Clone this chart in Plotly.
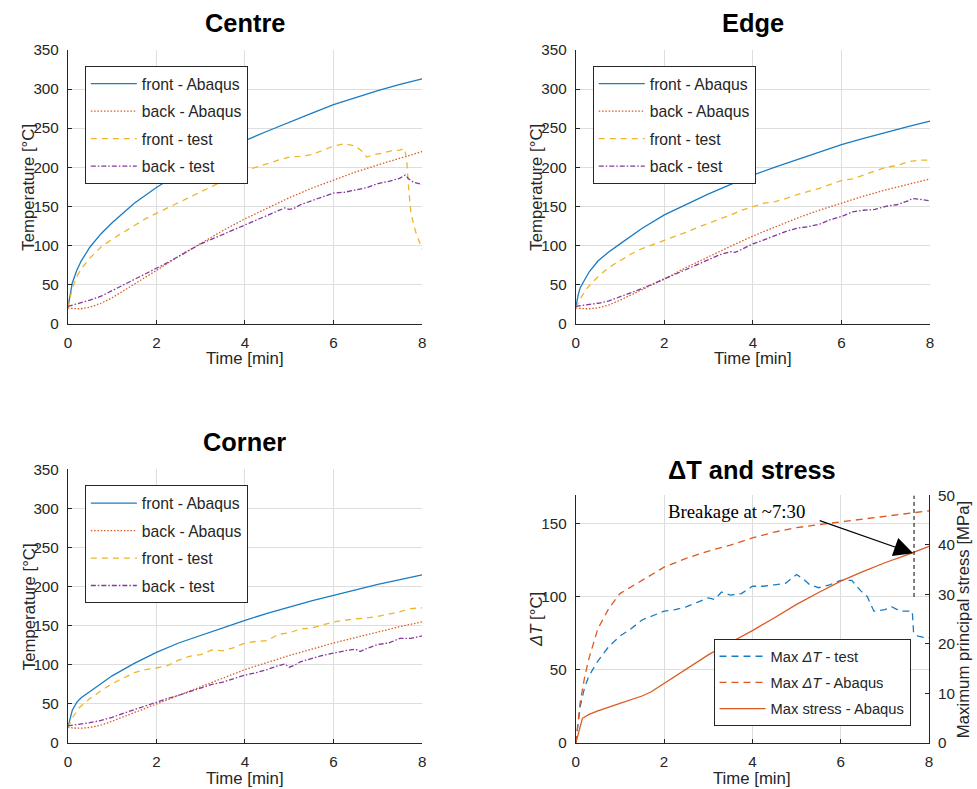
import plotly.graph_objects as go

W, H = 977, 789
BLUE, ORANGE, YELLOW, PURPLE = '#1a7cc2', '#db5a22', '#eeb528', '#84389a'
AX = '#262626'
GRID = '#dedede'
FONT = 'Liberation Sans, Arial, sans-serif'

# ---------------- data ----------------
t_abq = [0, 0.05, 0.1, 0.2, 0.3, 0.5, 0.75, 1, 1.5, 2, 2.5, 3, 3.5, 4, 4.5, 5, 5.5, 6, 6.5, 7, 7.5, 8]

centre_front_abq = [20, 38, 52, 68, 80, 98, 115, 129, 154, 174, 192, 207, 221, 234, 246, 258, 269, 280, 289, 298, 306, 313]
centre_back_abq = [20, 20, 19.5, 19, 19, 21, 26, 33, 50, 68, 86, 103, 119, 134, 148, 161, 173, 184, 194, 203, 212, 220]

edge_front_abq = [20, 36, 46, 57, 66, 80, 92, 102, 122, 139, 153, 166, 178, 190, 200, 210, 220, 229, 237, 245, 252, 259]
edge_back_abq = [20, 20, 19.5, 19, 19, 20, 24, 30, 43, 57, 72, 86, 99, 112, 124, 135, 145, 154, 163, 171, 178, 185]

corner_front_abq = [20, 32, 42, 52, 58, 66, 76, 86, 102, 116, 128, 138, 148, 157, 166, 174, 182, 189, 196, 203, 209, 215]
corner_back_abq = [20, 20, 19.5, 19, 19, 20, 23, 28, 39, 51, 62, 73, 84, 94, 103, 112, 120, 128, 135, 142, 149, 155]

centre_t_front_test = [0, 0.05, 0.1, 0.2, 0.3, 0.5, 0.75, 1, 1.25, 1.5, 1.75, 2, 2.25, 2.5, 2.75, 3, 3.25, 3.5, 3.75, 4,
                       4.25, 4.5, 4.75, 5, 5.25, 5.5, 5.75, 6, 6.25, 6.5, 6.65, 6.75, 6.9, 7.1, 7.3, 7.5, 7.6, 7.65,
                       7.7, 7.75, 7.85, 8]
centre_front_test = [20, 35, 45, 60, 70, 84, 98, 108, 117, 126, 134, 141, 148, 155, 161, 168, 175, 182, 189, 196,
                     200, 205, 209, 213, 214, 216, 222, 227, 230, 227, 220, 213, 216, 218, 221, 222, 224, 210,
                     170, 140, 118, 95]
centre_t_back_test = [0, 0.25, 0.5, 0.75, 1, 1.25, 1.5, 1.75, 2, 2.25, 2.5, 2.75, 3, 3.25, 3.5, 3.75, 4, 4.25, 4.5,
                      4.75, 4.9, 5, 5.1, 5.25, 5.5, 5.75, 6, 6.25, 6.5, 6.75, 7, 7.25, 7.5, 7.62, 7.7, 7.8, 8]
centre_back_test = [22, 26, 30, 35, 42, 49, 56, 63, 71, 78, 86, 94, 102, 108, 114, 121, 127, 132, 138,
                    145, 148, 146, 147, 152, 157, 163, 167, 168, 171, 174, 179, 182, 186, 190, 185, 181, 178]

edge_t_front_test = [0, 0.1, 0.25, 0.5, 0.75, 1, 1.25, 1.5, 1.75, 2, 2.25, 2.5, 2.75, 3, 3.25, 3.5, 3.75, 4, 4.25,
                     4.5, 4.75, 5, 5.25, 5.5, 5.75, 6, 6.25, 6.5, 6.75, 7, 7.25, 7.5, 7.75, 8]
edge_front_test = [20, 32, 45, 60, 72, 81, 89, 96, 101, 106, 112, 117, 123, 128, 134, 139, 145, 150, 154,
                   156, 160, 165, 169, 173, 178, 183, 185, 190, 195, 200, 202, 207, 209, 209]
edge_t_back_test = [0, 0.25, 0.5, 0.75, 1, 1.25, 1.5, 1.75, 2, 2.25, 2.5, 2.75, 3, 3.25, 3.5, 3.6, 3.75, 4, 4.25,
                    4.5, 4.75, 5, 5.25, 5.5, 5.75, 6, 6.25, 6.5, 6.75, 7, 7.25, 7.5, 7.6, 7.75, 8]
edge_back_test = [22, 24, 26, 29, 34, 39, 45, 51, 57, 63, 70, 76, 82, 88, 92, 91, 95, 102, 107,
                  113, 118, 122, 124, 127, 133, 137, 143, 145, 146, 150, 152, 157, 160, 159, 157]

corner_t_front_test = [0, 0.1, 0.25, 0.5, 0.75, 1, 1.25, 1.5, 1.75, 2, 2.25, 2.5, 2.75, 3, 3.25, 3.5, 3.75, 4, 4.25,
                       4.5, 4.75, 5, 5.25, 5.5, 5.75, 6, 6.25, 6.5, 6.75, 7, 7.25, 7.5, 7.75, 8]
corner_front_test = [20, 32, 45, 57, 67, 76, 83, 90, 94, 96, 99, 106, 111, 113, 119, 118, 122, 128, 130,
                     131, 139, 141, 146, 147, 151, 155, 157, 159, 160, 162, 165, 168, 172, 173]
corner_t_back_test = [0, 0.25, 0.5, 0.75, 1, 1.25, 1.5, 1.75, 2, 2.25, 2.5, 2.75, 3, 3.25, 3.5, 3.75, 4, 4.25, 4.5,
                      4.75, 4.9, 5, 5.1, 5.25, 5.5, 5.75, 6, 6.25, 6.5, 6.6, 6.75, 7, 7.25, 7.5, 7.75, 8]
corner_back_test = [22, 24, 26, 29, 33, 38, 43, 47, 52, 57, 61, 66, 71, 75, 78, 83, 87, 90, 94,
                    99, 101, 97, 99, 104, 108, 112, 115, 118, 120, 117, 121, 126, 128, 134, 134, 137]

t_dt_abq = [0, 0.05, 0.1, 0.2, 0.3, 0.5, 0.75, 1, 1.5, 2, 2.5, 3, 3.5, 4, 4.5, 5, 5.5, 6, 6.5, 7, 7.5, 8]
dt_abq = [0, 15, 28, 45, 58, 78, 92, 102, 111, 120, 126, 131, 135, 140, 144, 147, 149, 151, 153, 155, 157, 158.5]

t_dt_test = [0, 0.05, 0.1, 0.2, 0.3, 0.5, 0.75, 1, 1.25, 1.5, 1.75, 2, 2.25, 2.5, 2.75, 3, 3.15, 3.3, 3.5, 3.75,
             4, 4.25, 4.5, 4.75, 5, 5.15, 5.3, 5.5, 5.75, 6, 6.25, 6.45, 6.6, 6.75, 7, 7.15, 7.35, 7.5, 7.62,
             7.65, 7.75, 7.9, 8]
dt_test = [0, 15, 25, 38, 46, 56, 66, 73, 78, 84, 87, 90, 91, 93, 96, 99, 98, 103, 101, 102,
           107, 107, 108, 109, 115, 112, 108, 106, 108, 111, 111, 104, 100, 90, 91, 93, 90, 90, 90,
           75, 73, 72, 72]

t_stress = [0, 0.05, 0.1, 0.15, 0.3, 0.5, 1, 1.5, 1.7, 2, 2.5, 3, 3.5, 4, 4.5, 5, 5.5, 6, 6.5, 7, 7.5, 8]
stress_abq = [0, 1.5, 3.5, 5, 5.8, 6.5, 8, 9.5, 10.3, 12, 15, 17.8, 20.3, 22.7, 25.3, 28, 30.4, 32.7, 34.6, 36.4, 38, 39.7]

breakage_time = 7.66
breakage_label = 'Breakage at ~7:30'
arrow_tail = (5.49, 45.0)
arrow_head = (7.64, 38.3)
temp_ticks = [0, 50, 100, 150, 200, 250, 300, 350]
time_ticks = [0, 2, 4, 6, 8]

# ---------------- layout helpers ----------------
# the viewer shows the page slightly inset/scaled: compensate so positions land where intended
OX, OY, SX, SY = 2.0, 8.0, 0.9939, 0.9797
FS = 1 / 0.985


def px_x(p):
    return ((p - OX) / SX) / W


def px_y(p):
    return 1 - ((p - OY) / SY) / H


def fs(s):
    return s * FS


fig = go.Figure()

panels = [
    ('Centre', 'x', 'y', 'legend', (66, 421, 49, 323)),
    ('Edge', 'x2', 'y2', 'legend2', (575, 930, 49, 323)),
    ('Corner', 'x3', 'y3', 'legend3', (66, 421, 469, 743)),
]
series = {
    'Centre': (centre_front_abq, centre_back_abq, centre_t_front_test, centre_front_test, centre_t_back_test, centre_back_test),
    'Edge': (edge_front_abq, edge_back_abq, edge_t_front_test, edge_front_test, edge_t_back_test, edge_back_test),
    'Corner': (corner_front_abq, corner_back_abq, corner_t_front_test, corner_front_test, corner_t_back_test, corner_back_test),
}

lw = 1.3
DOT = '1.5px,1.8px'
DASH = '6px,5px'
DASHDOT = '5px,2px,1.5px,2px'
DASH2 = '7px,5px'
for name, xa, ya, lg, box in panels:
    fa, ba, tft, ft, tbt, bt = series[name]
    specs = [
        ('front - Abaqus', t_abq, fa, BLUE, 'solid'),
        ('back - Abaqus', t_abq, ba, ORANGE, DOT),
        ('front - test', tft, ft, YELLOW, DASH),
        ('back - test', tbt, bt, PURPLE, DASHDOT),
    ]
    for i, (lab, tx, ty, col, dash) in enumerate(specs):
        fig.add_trace(go.Scatter(x=tx, y=ty, mode='lines', name=lab,
                                 line=dict(color=col, width=lw, dash=dash),
                                 xaxis=xa, yaxis=ya, legend=lg, legendgroup=f'{name}{i}'))

fig.add_trace(go.Scatter(x=t_dt_test, y=dt_test, mode='lines', name='Max <i>ΔT</i> - test',
                         line=dict(color=BLUE, width=lw, dash=DASH2),
                         xaxis='x4', yaxis='y4', legend='legend4', legendgroup='d0'))
fig.add_trace(go.Scatter(x=t_dt_abq, y=dt_abq, mode='lines', name='Max <i>ΔT</i> - Abaqus',
                         line=dict(color=ORANGE, width=lw, dash=DASH2),
                         xaxis='x4', yaxis='y4', legend='legend4', legendgroup='d1'))
fig.add_trace(go.Scatter(x=t_stress, y=stress_abq, mode='lines', name='Max stress - Abaqus',
                         line=dict(color=ORANGE, width=lw),
                         xaxis='x4', yaxis='y5', legend='legend4', legendgroup='d2'))

tickfont = dict(family=FONT, size=fs(15), color=AX)
common_x = dict(range=[0, 8], tickvals=time_ticks, showline=True, linecolor=AX, linewidth=1,
                showgrid=True, gridcolor=GRID, gridwidth=1, zeroline=False, ticks='inside',
                ticklen=4, tickcolor=AX, tickfont=tickfont, ticklabelstandoff=5, fixedrange=True)
common_y = dict(showline=True, linecolor=AX, linewidth=1, showgrid=True, gridcolor=GRID, gridwidth=1,
                zeroline=False, ticks='inside', ticklen=4, tickcolor=AX, tickfont=tickfont,
                ticklabelstandoff=5, fixedrange=True)

layout = dict(width=W, height=H, margin=dict(l=0, r=0, t=0, b=0, pad=0),
              paper_bgcolor='white', plot_bgcolor='white', font=dict(family=FONT, color=AX),
              showlegend=True)

annotations = []
legend_boxes = {'legend': (83, 65, 15.5), 'legend2': (592, 65, 15.5), 'legend3': (83, 485, 15.5),
                'legend4': (713, 639, 14.5)}
for k, (lx, ly, lfs) in legend_boxes.items():
    layout[k] = dict(x=px_x(lx), y=px_y(ly), xanchor='left', yanchor='top', xref='paper', yref='paper',
                     bgcolor='white', bordercolor=AX, borderwidth=1,
                     font=dict(family=FONT, size=fs(lfs), color=AX), itemwidth=46,
                     tracegroupgap=4, traceorder='grouped')

axis_names = [('xaxis', 'yaxis', 'x', 'y'), ('xaxis2', 'yaxis2', 'x2', 'y2'), ('xaxis3', 'yaxis3', 'x3', 'y3')]
for (name, xa, ya, lg, (x0, x1, yt, yb)), (xk, yk, xr, yr) in zip(panels, axis_names):
    layout[xk] = dict(common_x, domain=[px_x(x0), px_x(x1)], anchor=yr)
    layout[yk] = dict(common_y, domain=[px_y(yb), px_y(yt)], anchor=xr, range=[0, 350], tickvals=temp_ticks)
    cx = (x0 + x1) / 2
    annotations.append(dict(text=f'<b>{name}</b>', x=px_x(cx), y=px_y(yt - 27), xref='paper', yref='paper',
                            showarrow=False, font=dict(family=FONT, size=fs(25), color='black'),
                            xanchor='center', yanchor='middle'))
    annotations.append(dict(text='Time [min]', x=px_x(cx), y=px_y(yb + 35), xref='paper', yref='paper',
                            showarrow=False, font=dict(family=FONT, size=fs(16.5), color=AX),
                            xanchor='center', yanchor='middle'))
    annotations.append(dict(text='Temperature [°C]', x=px_x(x0 - 39), y=px_y((yt + yb) / 2), xref='paper',
                            yref='paper', showarrow=False, textangle=-90,
                            font=dict(family=FONT, size=fs(16.5), color=AX), xanchor='center', yanchor='middle'))

# delta T panel
x0, x1, yt, yb = 575, 929, 495, 743
layout['xaxis4'] = dict(common_x, domain=[px_x(x0), px_x(x1)], anchor='y4')
layout['yaxis4'] = dict(common_y, domain=[px_y(yb), px_y(yt)], anchor='x4', range=[0, 169],
                        tickvals=[0, 50, 100, 150])
layout['yaxis5'] = dict(common_y, overlaying='y4', side='right', anchor='x4', range=[0, 50],
                        tickvals=[0, 10, 20, 30, 40, 50], showgrid=False)
cx = (x0 + x1) / 2
annotations.append(dict(text='<b>ΔT and stress</b>', x=px_x(cx), y=px_y(470), xref='paper', yref='paper',
                        showarrow=False, font=dict(family=FONT, size=fs(25), color='black'),
                        xanchor='center', yanchor='middle'))
annotations.append(dict(text='Time [min]', x=px_x(cx), y=px_y(yb + 35), xref='paper', yref='paper',
                        showarrow=False, font=dict(family=FONT, size=fs(16.5), color=AX),
                        xanchor='center', yanchor='middle'))
annotations.append(dict(text='<i>ΔT</i> [°C]', x=px_x(x0 - 40), y=px_y((yt + yb) / 2), xref='paper',
                        yref='paper', showarrow=False, textangle=-90,
                        font=dict(family=FONT, size=fs(16.5), color=AX), xanchor='center', yanchor='middle'))
annotations.append(dict(text='Maximum principal stress [MPa]', x=px_x(963), y=px_y((yt + yb) / 2),
                        xref='paper', yref='paper', showarrow=False, textangle=-90,
                        font=dict(family=FONT, size=fs(16.5), color=AX), xanchor='center', yanchor='middle'))
annotations.append(dict(text=breakage_label, x=px_x(665), y=px_y(511), xref='paper', yref='paper',
                        showarrow=False, font=dict(family='Liberation Serif, Times New Roman, serif',
                                                   size=fs(18.5), color='black'),
                        xanchor='left', yanchor='middle'))
annotations.append(dict(text='', x=arrow_head[0], y=arrow_head[1], xref='x4', yref='y5',
                        ax=arrow_tail[0], ay=arrow_tail[1], axref='x4', ayref='y5', showarrow=True,
                        arrowhead=2, arrowsize=3.2, arrowwidth=1.2, arrowcolor='black', standoff=0))
layout['annotations'] = annotations
layout['shapes'] = [dict(type='line', xref='x4', yref='y5', x0=breakage_time, x1=breakage_time, y0=29.5, y1=50,
                         line=dict(color='black', width=1, dash='4px,3px'))]

fig.update_layout(**layout)
fig.write_html('out.html')
